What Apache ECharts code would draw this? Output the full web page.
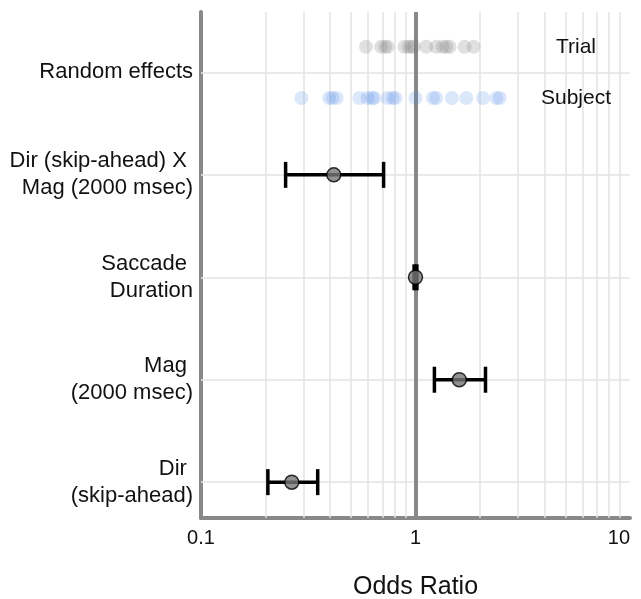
<!DOCTYPE html>
<html>
<head>
    <meta charset="utf-8">
    <title>Odds Ratio</title>
    <script src="https://cdn.jsdelivr.net/npm/echarts@6/dist/echarts.min.js"></script>
</head>
<body style="margin:0">
    <div id="main" style="width: 641px;height:599px;"></div>
    <script type="text/javascript">
        // rows, bottom to top (y value = index)
        var rowLabels = ['Dir \n(skip-ahead)', 'Mag \n(2000 msec)', 'Saccade \nDuration',
            'Dir (skip-ahead) X \nMag (2000 msec)', 'Random effects'];
        var oddsRatio = [0.265, 1.6, 1.0, 0.416];
        var ciLow = [0.205, 1.225, 0.985, 0.248];
        var ciHigh = [0.35, 2.12, 1.015, 0.71];

        // random effects, as odds ratios
        var trialEffects = [0.588, 0.691, 0.722, 0.743, 0.888, 0.928, 0.955, 0.982, 1.122,
            1.249, 1.337, 1.391, 1.442, 1.694, 1.866];
        var subjectEffects = [0.294, 0.396, 0.411, 0.429, 0.548, 0.598, 0.628, 0.643, 0.742,
            0.783, 0.807, 1.0, 1.205, 1.249, 1.478, 1.726, 2.063, 2.383, 2.47];
        var trialRow = 4.25;
        var subjectRow = 3.75;

        var minorTicks = [0.2, 0.3, 0.4, 0.5, 0.6, 0.7, 0.8, 0.9, 2, 3, 4, 5, 6, 7, 8, 9];
        var xTickLabels = {0.1: '0.1', 1: '1', 10: '10'};

        var rowValues = rowLabels.map(function (l, i) { return i; });
        var gridStyle = { color: '#e3e3e3', width: 1.5, type: 'solid' };

        var lines = [];
        minorTicks.forEach(function (v) { lines.push({ xAxis: v, lineStyle: gridStyle }); });
        rowValues.forEach(function (v) { lines.push({ yAxis: v, lineStyle: gridStyle }); });
        lines.push({ xAxis: 1, lineStyle: { color: '#888', width: 4, type: 'solid' } });

        var myChart = echarts.init(document.getElementById('main'));
        var textFont = 'Liberation Sans, Arial, sans-serif';
        var option = {
            animation: false,
            textStyle: { fontFamily: textFont },
            grid: { left: 201, right: 11, top: 12, bottom: 81, containLabel: false, outerBoundsMode: 'none' },
            xAxis: {
                type: 'log',
                logBase: 10,
                min: 0.1,
                max: 10,
                name: 'Odds Ratio',
                nameLocation: 'middle',
                nameGap: 57,
                nameTextStyle: { fontSize: 25, color: '#111', fontFamily: textFont },
                axisLine: { onZero: false, lineStyle: { color: '#888', width: 4 } },
                axisTick: { show: false },
                splitLine: { show: false },
                axisLabel: {
                    fontSize: 20, color: '#111', margin: 10, fontFamily: textFont,
                    alignMaxLabel: 'right',
                    formatter: function (v) { return xTickLabels[v] || ''; }
                }
            },
            yAxis: {
                type: 'value',
                min: -0.35,
                max: 4.59,
                axisLine: { show: true, onZero: false, lineStyle: { color: '#888', width: 4 } },
                axisTick: { show: false },
                splitLine: { show: false },
                axisLabel: {
                    customValues: rowValues,
                    fontSize: 22, color: '#111', margin: 8, lineHeight: 27,
                    fontFamily: textFont, align: 'right',
                    formatter: function (v) { return rowLabels[v]; }
                }
            },
            series: [
                {
                    type: 'scatter',
                    name: 'grid',
                    data: [],
                    z: 1,
                    silent: true,
                    markLine: { z: 1, silent: true, symbol: 'none', label: { show: false }, data: lines, animation: false }
                },
                {
                    type: 'scatter',
                    name: 'Trial',
                    z: 3,
                    symbolSize: 14,
                    itemStyle: { color: 'rgba(128,128,128,0.3)' },
                    data: trialEffects.map(function (v) { return [v, trialRow]; })
                },
                {
                    type: 'scatter',
                    name: 'Subject',
                    z: 3,
                    symbolSize: 14,
                    itemStyle: { color: 'rgba(74,134,232,0.25)' },
                    data: subjectEffects.map(function (v) { return [v, subjectRow]; })
                },
                {
                    type: 'scatter',
                    name: 'labels',
                    symbolSize: 0,
                    silent: true,
                    z: 3,
                    itemStyle: { color: '#fff', opacity: 1 },
                    label: {
                        show: true, position: 'inside', fontSize: 21, color: '#111',
                        textBorderWidth: 0, fontFamily: textFont,
                        formatter: function (p) { return p.data[2]; }
                    },
                    data: [[5.6, trialRow, 'Trial'], [5.6, subjectRow, 'Subject']]
                },
                {
                    type: 'custom',
                    name: 'ci',
                    z: 4,
                    encode: { x: [0, 1], y: 2 },
                    data: ciLow.map(function (lo, i) { return [lo, ciHigh[i], i]; }),
                    renderItem: function (params, api) {
                        var a = api.coord([api.value(0), api.value(2)]);
                        var b = api.coord([api.value(1), api.value(2)]);
                        var h = 13;
                        var st = { stroke: '#000', lineWidth: 3.5 };
                        return {
                            type: 'group',
                            children: [
                                { type: 'line', shape: { x1: a[0], y1: a[1], x2: b[0], y2: b[1] }, style: st },
                                { type: 'line', shape: { x1: a[0], y1: a[1] - h, x2: a[0], y2: a[1] + h }, style: st },
                                { type: 'line', shape: { x1: b[0], y1: b[1] - h, x2: b[0], y2: b[1] + h }, style: st }
                            ]
                        };
                    }
                },
                {
                    type: 'scatter',
                    name: 'estimate',
                    z: 5,
                    symbolSize: 14,
                    itemStyle: { color: '#777', borderColor: '#000', borderWidth: 1.5 },
                    data: oddsRatio.map(function (v, i) { return [v, i]; })
                }
            ]
        };
        myChart.setOption(option);
    </script>
</body>
</html>
